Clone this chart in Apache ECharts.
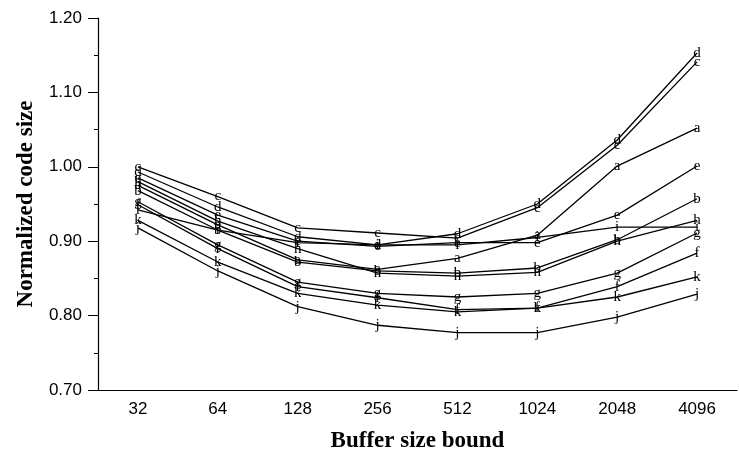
<!DOCTYPE html>
<html lang="en">
<head>
    <meta charset="UTF-8">
    <title>Normalized code size</title>
    <script src="https://cdn.jsdelivr.net/npm/echarts@6.0.0/dist/echarts.min.js"></script>
</head>
<body style="margin:0">
<div id="dom" style="width:739px;height:450px"></div>
<script>
    var bufferSizes = ['32', '64', '128', '256', '512', '1024', '2048', '4096'];
    var seriesNames = ['a', 'b', 'c', 'd', 'e', 'f', 'g', 'h', 'i', 'j', 'k'];
    var a = [0.975, 0.922, 0.875, 0.862, 0.877, 0.908, 1.001, 1.052];
    var b = [0.968, 0.915, 0.872, 0.860, 0.857, 0.864, 0.902, 0.957];
    var c = [1.000, 0.960, 0.918, 0.911, 0.904, 0.945, 1.029, 1.141];
    var d = [0.993, 0.946, 0.906, 0.895, 0.910, 0.950, 1.036, 1.153];
    var e = [0.985, 0.935, 0.900, 0.893, 0.898, 0.898, 0.935, 1.001];
    var f = [0.949, 0.890, 0.839, 0.824, 0.808, 0.810, 0.839, 0.884];
    var g = [0.953, 0.895, 0.845, 0.830, 0.825, 0.830, 0.857, 0.911];
    var h = [0.980, 0.927, 0.890, 0.857, 0.853, 0.858, 0.900, 0.928];
    var i = [0.942, 0.915, 0.898, 0.895, 0.895, 0.905, 0.919, 0.919];
    var j = [0.918, 0.860, 0.812, 0.787, 0.777, 0.777, 0.798, 0.829];
    var k = [0.928, 0.872, 0.830, 0.814, 0.805, 0.810, 0.825, 0.852];
    var values = [a, b, c, d, e, f, g, h, i, j, k];

    var series = [];
    for (var n = 0; n < seriesNames.length; n++) {
        series.push({
            name: seriesNames[n],
            type: 'line',
            data: values[n],
            symbol: 'circle',
            symbolSize: 1,
            itemStyle: {color: 'rgba(0,0,0,0)'},
            lineStyle: {color: '#000', width: 1.3},
            label: {
                show: true,
                position: 'inside',
                formatter: seriesNames[n],
                color: '#000',
                fontFamily: 'Liberation Serif',
                fontSize: 15
            },
            labelLayout: {hideOverlap: false},
            silent: true,
            animation: false
        });
    }

    var myEcharts = echarts.init(document.getElementById('dom'));
    myEcharts.setOption({
        backgroundColor: '#fff',
        grid: {left: 98, right: 2, top: 18, bottom: 60, outerBoundsMode: 'none'},
        xAxis: {
            type: 'category',
            data: bufferSizes,
            boundaryGap: true,
            name: 'Buffer size bound',
            nameLocation: 'middle',
            nameGap: 40,
            nameTextStyle: {fontFamily: 'Liberation Serif', fontWeight: 'bold', fontSize: 23, color: '#000'},
            axisLine: {lineStyle: {color: '#000', width: 1.2}},
            axisTick: {alignWithLabel: true, inside: true, length: 5, lineStyle: {color: '#000'}},
            axisLabel: {fontFamily: 'Liberation Sans', fontSize: 17, color: '#000', margin: 11}
        },
        yAxis: {
            type: 'value',
            min: 0.7,
            max: 1.2,
            interval: 0.1,
            name: 'Normalized code size',
            nameLocation: 'middle',
            nameGap: 60,
            nameTextStyle: {fontFamily: 'Liberation Serif', fontWeight: 'bold', fontSize: 23, color: '#000'},
            axisLine: {show: true, lineStyle: {color: '#000', width: 1.2}},
            axisTick: {show: true, length: 10, lineStyle: {color: '#000'}},
            minorTick: {show: true, splitNumber: 2, length: 4, lineStyle: {color: '#000'}},
            splitLine: {show: false},
            axisLabel: {
                fontFamily: 'Liberation Sans', fontSize: 17, color: '#000', margin: 16,
                formatter: function (v) { return v.toFixed(2); }
            }
        },
        series: series
    });
</script>
</body>
</html>
